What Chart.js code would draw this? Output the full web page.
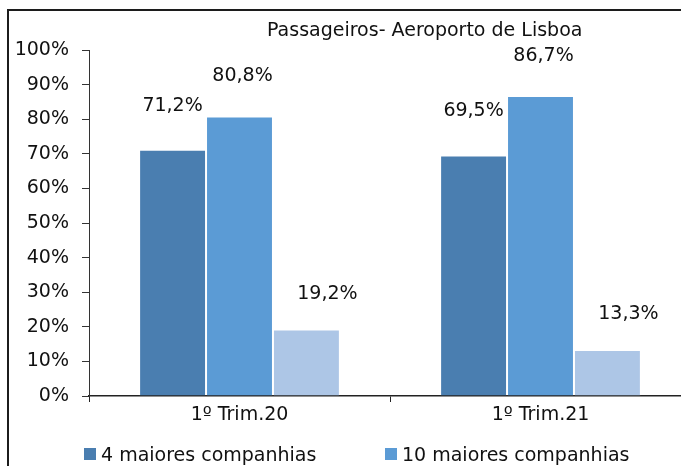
<!DOCTYPE html>
<html>
<head>
<meta charset="utf-8">
<script src="https://cdn.jsdelivr.net/npm/chart.js@4.4.1/dist/chart.umd.min.js"></script>
<style>
  html,body{margin:0;padding:0;background:#fff;overflow:hidden;width:681px;height:466px}
  body{font-family:"DejaVu Sans",sans-serif;color:#111}
  #frame{position:absolute;left:7px;top:9px;width:760px;height:520px;border:2px solid #1c1c1c}
  #c{position:absolute;left:0;top:0}
  #title{position:absolute;left:258px;top:7px;font-size:19px;white-space:nowrap}
  #legend{position:absolute;left:75px;top:432px;display:flex;white-space:nowrap}
  .lg{width:301px;display:flex;align-items:center;font-size:19px}
  .lg i{display:inline-block;width:12px;height:12px;margin-right:5px}
</style>
</head>
<body>
<div id="frame">
  <canvas id="c" width="700" height="440"></canvas>
  <div id="title">Passageiros- Aeroporto de Lisboa</div>
  <div id="legend"></div>
</div>
<script>
// data
const categories=['1º Trim.20','1º Trim.21'];
const seriesNames=['4 maiores companhias','10 maiores companhias','Restantes companhias'];
const top4=[71.2,69.5];
const top10=[80.8,86.7];
const others=[19.2,13.3];
const yTicks=[0,10,20,30,40,50,60,70,80,90,100];

// styles
const COLORS=['#4A7EB0','#5B9BD5','#ADC6E6'];
const LABEL_DX=[0,3,21], LABEL_DY=[44,40,36];
const FONT='"DejaVu Sans",sans-serif';
const pct=v=>v.toFixed(1).replace('.',',')+'%';

const valueLabels={
  id:'valueLabels',
  afterDatasetsDraw(ch){
    const ctx=ch.ctx;
    ctx.save();
    ctx.font='19px '+FONT;ctx.fillStyle='#111';ctx.textAlign='center';ctx.textBaseline='middle';
    ch.data.datasets.forEach((ds,i)=>{
      ch.getDatasetMeta(i).data.forEach((bar,j)=>{
        ctx.fillText(pct(ds.data[j]),bar.x+LABEL_DX[i],bar.y-LABEL_DY[i]);
      });
    });
    ctx.restore();
  }
};

new Chart(document.getElementById('c'),{
  type:'bar',
  data:{labels:categories,datasets:[top4,top10,others].map((d,i)=>({
    label:seriesNames[i],data:d,backgroundColor:COLORS[i],
    borderColor:'rgba(255,255,255,0.2)',borderWidth:1,
    categoryPercentage:0.667,barPercentage:1
  }))},
  options:{
    responsive:false,animation:false,devicePixelRatio:1,
    layout:{padding:{top:39,right:18,left:0,bottom:0}},
    plugins:{legend:{display:false},tooltip:{enabled:false},title:{display:false}},
    scales:{
      x:{
        grid:{offset:true,drawOnChartArea:false,tickLength:6,color:'#222',lineWidth:1},
        border:{color:'#222',width:1.5},
        ticks:{color:'#111',padding:2,font:{family:FONT,size:19}},
        afterFit:s=>{s.height=55;}
      },
      y:{
        min:0,max:100,
        afterBuildTicks:s=>{s.ticks=yTicks.map(v=>({value:v}));},
        grid:{drawOnChartArea:false,tickLength:7,color:'#333',lineWidth:1},
        border:{color:'#333',width:1},
        ticks:{color:'#111',padding:13,font:{family:FONT,size:19},callback:v=>v+'%'},
        afterFit:s=>{s.width=80;}
      }
    }
  },
  plugins:[valueLabels]
});

document.getElementById('legend').innerHTML=seriesNames.map((n,i)=>
  `<div class="lg"><i style="background:${COLORS[i]}"></i>${n}</div>`).join('');
</script>
</body>
</html>
